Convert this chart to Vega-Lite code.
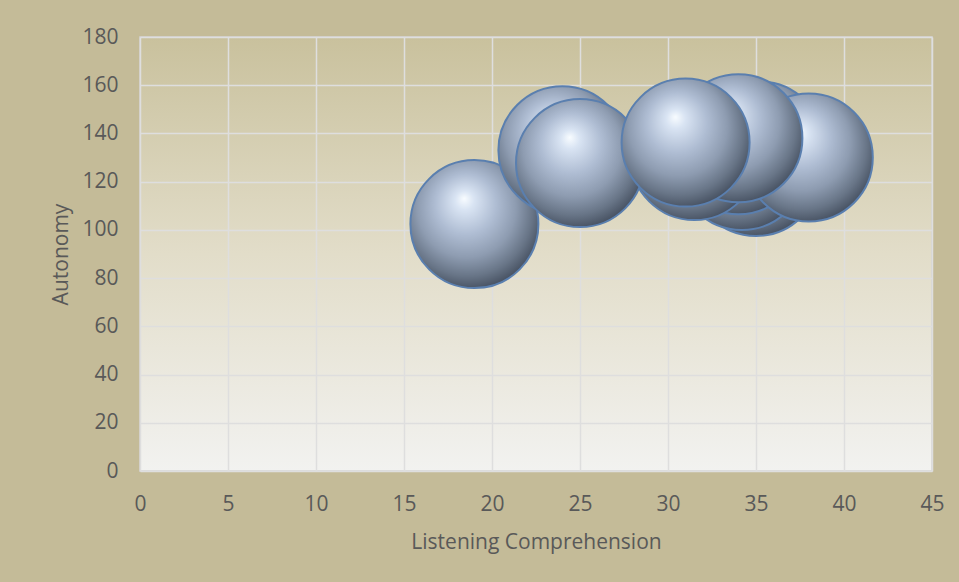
{
  "$schema": "https://vega.github.io/schema/vega-lite/v6.json",
  "width": 792,
  "height": 434,
  "autosize": {"type": "none"},
  "padding": {"left": 140, "top": 37, "right": 27, "bottom": 111},
  "background": "#C4BB98",
  "config": {
    "font": "Open Sans",
    "view": {
      "stroke": "#D4D4D4",
      "strokeWidth": 1.5,
      "fill": {
        "gradient": "linear",
        "x1": 0, "y1": 0, "x2": 0, "y2": 1,
        "stops": [
          {"offset": 0, "color": "#C9C19D"},
          {"offset": 0.5, "color": "#E2DDC9"},
          {"offset": 1, "color": "#F2F2F0"}
        ]
      }
    },
    "axis": {
      "domain": false,
      "ticks": false,
      "grid": true,
      "labelFlush": false,
      "gridColor": "#DEDEDE",
      "gridWidth": 1.5,
      "labelFont": "Open Sans",
      "labelFontSize": 21,
      "labelColor": "#595959",
      "titleFont": "Open Sans",
      "titleFontSize": 21,
      "titleFontWeight": "normal",
      "titleColor": "#595959"
    }
  },
  "data": {
    "values": [
      {"lc": 35.2, "aut": 135},
      {"lc": 35, "aut": 124},
      {"lc": 34.2, "aut": 126.5},
      {"lc": 34, "aut": 133},
      {"lc": 31.5, "aut": 130.6},
      {"lc": 19, "aut": 102.4},
      {"lc": 24, "aut": 133},
      {"lc": 25, "aut": 127.7},
      {"lc": 38, "aut": 130},
      {"lc": 34, "aut": 138},
      {"lc": 31, "aut": 136.2}
    ]
  },
  "mark": {
    "type": "point",
    "shape": "circle",
    "filled": true,
    "opacity": 1,
    "size": 16384,
    "stroke": "#5A7FAF",
    "strokeWidth": 2,
    "fill": {
      "gradient": "radial",
      "x1": 0.42, "y1": 0.3, "r1": 0,
      "x2": 0.45, "y2": 0.42, "r2": 0.62,
      "stops": [
        {"offset": 0, "color": "#F8FCFF"},
        {"offset": 0.12, "color": "#D9E4F3"},
        {"offset": 0.38, "color": "#AFBDD3"},
        {"offset": 0.62, "color": "#8E9CB1"},
        {"offset": 0.82, "color": "#687587"},
        {"offset": 1, "color": "#3F4959"}
      ]
    }
  },
  "encoding": {
    "x": {
      "field": "lc",
      "type": "quantitative",
      "scale": {"domain": [0, 45], "nice": false, "zero": true},
      "axis": {"values": [0, 5, 10, 15, 20, 25, 30, 35, 40, 45], "title": "Listening Comprehension", "labelPadding": 22, "titlePadding": 17}
    },
    "y": {
      "field": "aut",
      "type": "quantitative",
      "scale": {"domain": [0, 180], "nice": false},
      "axis": {"values": [0, 20, 40, 60, 80, 100, 120, 140, 160, 180], "title": "Autonomy", "labelPadding": 22, "titlePadding": 10}
    }
  }
}
